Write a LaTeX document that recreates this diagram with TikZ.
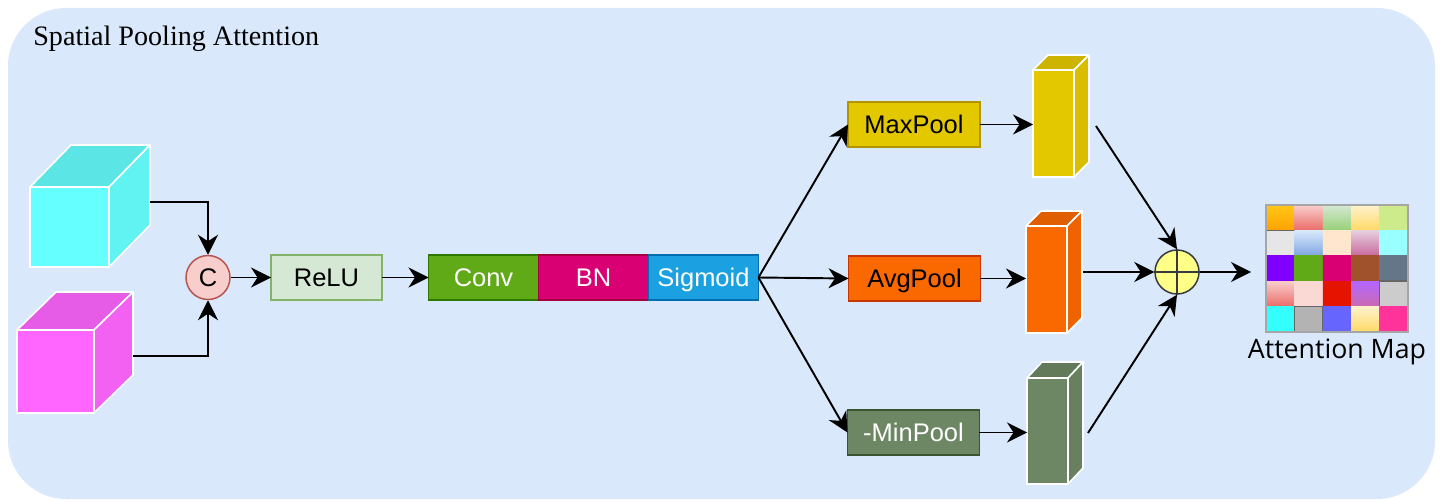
\documentclass[tikz,border=0pt]{standalone}
\usepackage{fontspec}
\setmainfont{Liberation Serif}
\setsansfont{Liberation Sans}
\newfontfamily\mapfont{Open Sans}
\usepackage{xcolor}
\usepackage{tikz}
\usetikzlibrary{arrows.meta, positioning}

% cores
\definecolor{fundo}{HTML}{DAE8FC}
\definecolor{cianoF}{HTML}{66FFFF}
\definecolor{cianoT}{HTML}{5CE5E5}
\definecolor{cianoL}{HTML}{61F2F2}
\definecolor{rosaF}{HTML}{FF66FF}
\definecolor{rosaT}{HTML}{E65CE6}
\definecolor{rosaL}{HTML}{F261F2}
\definecolor{catF}{HTML}{F8CECC}
\definecolor{catD}{HTML}{B85450}
\definecolor{reluF}{HTML}{D5E8D4}
\definecolor{reluD}{HTML}{82B366}
\definecolor{convF}{HTML}{60A917}
\definecolor{convD}{HTML}{2D7600}
\definecolor{bnF}{HTML}{D80073}
\definecolor{bnD}{HTML}{A50040}
\definecolor{sigF}{HTML}{1BA1E2}
\definecolor{sigD}{HTML}{006EAF}
\definecolor{maxF}{HTML}{E3C800}
\definecolor{maxD}{HTML}{B09500}
\definecolor{maxT}{HTML}{CCB400}
\definecolor{maxL}{HTML}{D9BE00}
\definecolor{avgF}{HTML}{FA6800}
\definecolor{avgD}{HTML}{C73500}
\definecolor{avgT}{HTML}{E15E00}
\definecolor{avgL}{HTML}{EE6300}
\definecolor{minF}{HTML}{6D8764}
\definecolor{minD}{HTML}{3A5431}
\definecolor{minT}{HTML}{627A5A}
\definecolor{minL}{HTML}{68805F}
\definecolor{somaF}{HTML}{FFFF88}
\definecolor{somaD}{HTML}{36393D}
% cores do mapa de atencao
\definecolor{m01}{HTML}{FFC61A}\definecolor{m01b}{HTML}{FFA200}
\definecolor{m02}{HTML}{F8CECC}\definecolor{m02b}{HTML}{EA6B66}
\definecolor{m03}{HTML}{D5E8D4}\definecolor{m03b}{HTML}{97D077}
\definecolor{m04}{HTML}{FFF2CC}\definecolor{m04b}{HTML}{FFD966}
\definecolor{m05}{HTML}{CDEB8B}
\definecolor{m06}{HTML}{E6E6E6}
\definecolor{m07}{HTML}{DAE8FC}\definecolor{m07b}{HTML}{7EA6E0}
\definecolor{m08}{HTML}{FFE6CC}
\definecolor{m09}{HTML}{E6D0DE}\definecolor{m09b}{HTML}{C8689D}
\definecolor{m10}{HTML}{99FFFF}
\definecolor{m11}{HTML}{7F00FF}
\definecolor{m12}{HTML}{60A917}
\definecolor{m13}{HTML}{D80073}
\definecolor{m14}{HTML}{A0522D}
\definecolor{m15}{HTML}{647687}
\definecolor{m17}{HTML}{FAD9D5}
\definecolor{m18}{HTML}{E51400}
\definecolor{m19}{HTML}{B266FF}\definecolor{m19b}{HTML}{CC6AB0}
\definecolor{m20}{HTML}{CCCCCC}
\definecolor{m21}{HTML}{33FFFF}
\definecolor{m22}{HTML}{B3B3B3}
\definecolor{m23}{HTML}{6666FF}
\definecolor{m25}{HTML}{FF3399}
\definecolor{borda}{HTML}{666666}

% faces de topo e lateral de um bloco 3D (no da face frontal, profundidade, topo, lateral)
\newcommand{\faces}[4]{%
  \filldraw[fill=#3, draw=white, line width=0.9pt, line join=round]
    (#1.north west) -- ++#2 -- ([shift={#2}]#1.north east) -- (#1.north east) -- cycle;
  \filldraw[fill=#4, draw=white, line width=0.9pt, line join=round]
    (#1.north east) -- ([shift={#2}]#1.north east) -- ([shift={#2}]#1.south east) -- (#1.south east) -- cycle;
}

\begin{document}
\begin{tikzpicture}[x=0.02cm, y=-0.02cm,
  caixa/.style={draw, line width=0.85pt, minimum width=2.2cm, minimum height=0.9cm,
    inner sep=0pt, outer sep=0pt, text height=11pt, text depth=0.6pt,
    font=\sffamily\fontsize{14.5}{17}\selectfont},
  face/.style={draw=white, line width=0.9pt, inner sep=0pt, outer sep=0pt},
  seta/.style={line width=1.1pt, -{Stealth[length=0.4cm, width=0.4cm, inset=0.13cm]}}]
  \useasboundingbox (0,0) rectangle (1441,500);
  % fundo
  \fill[fundo, rounded corners=1.16cm] (8,8) rectangle (1435,499);
  \node[anchor=base west, inner sep=0pt, font=\fontsize{16}{18}\selectfont] (titulo) at (33,46) {Spatial Pooling Attention};
  % cubos de entrada
  \node[face, fill=cianoF, minimum width=1.58cm, minimum height=1.6cm] (ciano) at (69.5,227) {};
  \faces{ciano}{(41,-42)}{cianoT}{cianoL}
  \node[face, fill=rosaF, minimum width=1.54cm, minimum height=1.66cm] (rosa) at (55.5,371.5) {};
  \faces{rosa}{(39,-38)}{rosaT}{rosaL}
  \coordinate (cianoout) at (150,202);
  \coordinate (rosaout) at (133,356);
  % concatenacao
  \node[circle, draw=catD, fill=catF, line width=0.85pt, minimum size=0.88cm, inner sep=0pt,
    font=\sffamily\fontsize{14.5}{17}\selectfont] (cat) at (208,277.5) {C};
  \draw[seta] (cianoout) -| (cat);
  \draw[seta] (rosaout) -| (cat);
  % ReLU, Conv, BN, Sigmoid
  \node[caixa, fill=reluF, draw=reluD, minimum width=2.22cm] (relu) at (326.5,277.5) {ReLU};
  \node[caixa, fill=convF, draw=convD, text=white] (conv) at (483.5,277.5) {Conv};
  \node[caixa, fill=bnF, draw=bnD, text=white, right=0pt of conv] (bn) {BN};
  \node[caixa, fill=sigF, draw=sigD, text=white, right=0pt of bn] (sig) {Sigmoid};
  \draw[seta] (cat) -- (relu);
  \draw[seta] (relu) -- (conv);
  % pooling
  \node[caixa, fill=maxF, draw=maxD, minimum width=2.64cm] (maxp) at (914,124.5) {MaxPool};
  \node[caixa, fill=avgF, draw=avgD, minimum width=2.64cm] (avgp) at (914.5,278.5) {AvgPool};
  \node[caixa, fill=minF, draw=minD, text=white, minimum width=2.64cm] (minp) at (913.5,432.5) {-MinPool};
  \draw[seta] (sig.east) -- (maxp.west);
  \draw[seta] (sig.east) -- (avgp.west);
  \draw[seta] (sig.east) -- (minp.west);
  % barras
  \node[face, fill=maxF, minimum width=0.82cm, minimum height=2.14cm] (maxbar) at (1053.5,123.5) {};
  \faces{maxbar}{(15,-15)}{maxT}{maxL}
  \node[face, fill=avgF, minimum width=0.82cm, minimum height=2.14cm] (avgbar) at (1046.5,279.5) {};
  \faces{avgbar}{(15,-15)}{avgT}{avgL}
  \node[face, fill=minF, minimum width=0.82cm, minimum height=2.12cm] (minbar) at (1047.5,431) {};
  \faces{minbar}{(15,-16)}{minT}{minL}
  \draw[seta] (maxp.east) -- (maxp.east -| maxbar.west);
  \draw[seta] (avgp.east) -- (avgp.east -| avgbar.west);
  \draw[seta] (minp.east) -- (minp.east -| minbar.west);
  % soma
  \node[circle, draw=somaD, fill=somaF, line width=0.85pt, minimum size=0.88cm, inner sep=0pt] (soma) at (1177,272) {};
  \draw[somaD, line width=0.85pt] (soma.north) -- (soma.south) (soma.west) -- (soma.east);
  \coordinate (maxout) at (1096,126);
  \coordinate (avgout) at (1083,272);
  \coordinate (minout) at (1088,433);
  \draw[seta] (maxout) -- (soma.north);
  \draw[seta] (avgout) -- (soma.west);
  \draw[seta] (minout) -- (soma.south);
  % mapa de atencao
  \node[minimum width=2.84cm, minimum height=2.54cm, inner sep=0pt, outer sep=0pt] (mapa) at (1337,268.5) {};
  \foreach \ct/\cb/\cs [count=\i from 0] in {
      m01/m01b/none, m02/m02b/none, m03/m03b/none, m04/m04b/none, m05/m05/none,
      m06/m06/borda, m07/m07b/none, m08/m08/none, m09/m09b/none, m10/m10/none,
      m11/m11/none, m12/m12/none, m13/m13/none, m14/m14/none, m15/m15/none,
      m02/m02b/none, m17/m17/none, m18/m18/none, m19/m19b/none, m20/m20/borda,
      m21/m21/none, m22/m22/borda, m23/m23/none, m04/m04b/none, m25/m25/none} {
    \pgfmathtruncatemacro\col{mod(\i,5)}
    \pgfmathtruncatemacro\lin{\i/5}
    \shade[top color=\ct, bottom color=\cb, draw=\cs, line width=0.8pt]
      ({1266+\col*28.4},{205+\lin*25.4}) rectangle ++(28.4,25.4);
  }
  \draw[gray!70, line width=0.8pt] (mapa.north west) rectangle (mapa.south east);
  \coordinate (mapain) at (1251,272);
  \draw[seta] (soma.east) -- (mapain);
  \node[below=4pt of mapa, inner sep=0pt, font=\mapfont\fontsize{15.2}{17}\selectfont] (rotulo) {Attention Map};
\end{tikzpicture}
\end{document}
